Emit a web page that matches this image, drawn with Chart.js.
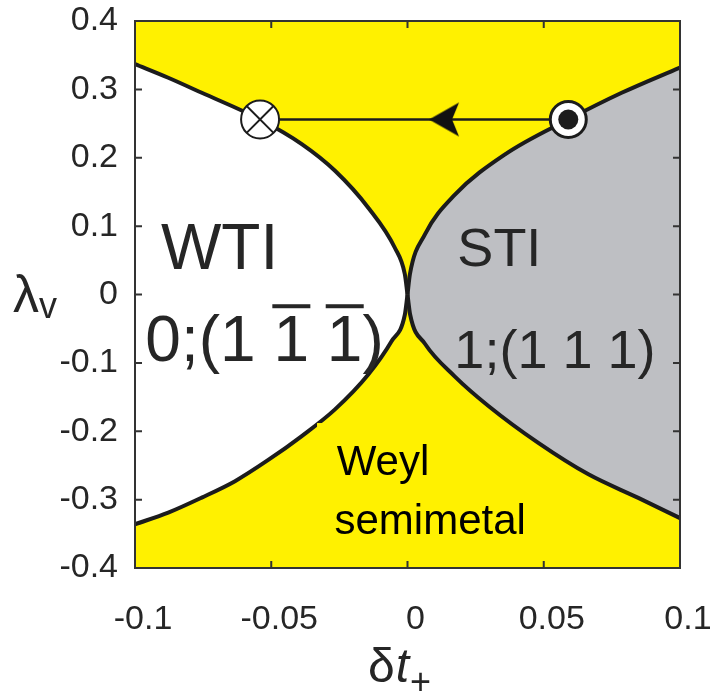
<!DOCTYPE html>
<html><head><meta charset="utf-8">
<script src="https://cdn.jsdelivr.net/npm/chart.js@4.4.1/dist/chart.umd.min.js"></script>
<style>html,body{margin:0;padding:0;background:#fff;}#wrap{width:728px;height:697px;position:relative;}</style>
</head><body><div id="wrap"><canvas id="c" width="728" height="697"></canvas></div>
<script>
// ---- data ----
const wtiUpperDt     = [-0.1, -0.0878, -0.0755, -0.0541, -0.0388, -0.0266, -0.0144, -0.0046, -0.001, 0];
const wtiUpperLambda = [0.337, 0.317, 0.295, 0.256, 0.220, 0.181, 0.127, 0.068, 0.030, 0];
const wtiLowerDt     = [-0.1, -0.0878, -0.0755, -0.0633, -0.0511, -0.0388, -0.0266, -0.0144, -0.0058, -0.001, 0];
const wtiLowerLambda = [-0.336, -0.319, -0.297, -0.273, -0.242, -0.207, -0.168, -0.117, -0.068, -0.030, 0];
const stiUpperDt     = [0, 0.0009, 0.0064, 0.0174, 0.0358, 0.059, 0.0786, 0.1];
const stiUpperLambda = [0, 0.030, 0.088, 0.146, 0.205, 0.256, 0.295, 0.332];
const stiLowerDt     = [0, 0.001, 0.0064, 0.0174, 0.0297, 0.048, 0.0664, 0.0847, 0.1];
const stiLowerLambda = [0, -0.030, -0.072, -0.120, -0.163, -0.217, -0.263, -0.2975, -0.327];
const pathDt     = [-0.0541, 0.059];   // crossed circle (end), dotted circle (start)
const pathLambda = [0.256, 0.256];
const arrowDt     = [0.0134];
const arrowLambda = [0.256];
const xTickValues = [-0.1, -0.05, 0, 0.05, 0.1];
const xTickLabels = ['-0.1', '-0.05', '0', '0.05', '0.1'];
const yTickValues = [-0.4, -0.3, -0.2, -0.1, 0, 0.1, 0.2, 0.3, 0.4];
const yTickLabels = ['-0.4', '-0.3', '-0.2', '-0.1', '0', '0.1', '0.2', '0.3', '0.4'];

// ---- styles ----
const YELLOW = '#FFF100', GRAY = '#BEBFC3', INK = '#1c1c1c', TXT = '#262626';
const FONT = '"Liberation Sans", Arial, Helvetica, sans-serif';

function pts(xs, ys) { return xs.map((x, i) => ({ x: x, y: ys[i] })); }

function makeArrow() {
  const c = document.createElement('canvas'); c.width = 32; c.height = 38;
  const g = c.getContext('2d'); g.fillStyle = '#111';
  g.beginPath(); g.moveTo(1, 19); g.lineTo(31, 2); g.lineTo(24, 19); g.lineTo(31, 36); g.closePath(); g.fill();
  return c;
}

const curveStyle = { showLine: true, borderColor: INK, borderWidth: 4, pointRadius: 0, cubicInterpolationMode: 'monotone', order: 10 };

const bgPlugin = {
  id: 'bg',
  beforeDraw(chart) {
    const { ctx, chartArea: a } = chart;
    ctx.save(); ctx.fillStyle = YELLOW; ctx.fillRect(a.left, a.top, a.right - a.left, a.bottom - a.top); ctx.restore();
  }
};

const overlayPlugin = {
  id: 'overlay',
  afterDatasetsDraw(chart) {
    const { ctx, chartArea: a, scales: { x, y } } = chart;
    const px = v => x.getPixelForValue(v), py = v => y.getPixelForValue(v);
    ctx.save();
    // Weyl label box
    ctx.fillStyle = YELLOW;
    ctx.fillRect(px(-0.0332), py(-0.188), px(0.0083) - px(-0.0332), py(-0.366) - py(-0.188));
    ctx.textAlign = 'left'; ctx.textBaseline = 'alphabetic';
    ctx.fillStyle = TXT;
    ctx.font = '64px ' + FONT;
    ctx.fillText('WTI', px(-0.0905), py(0.0373));
    const s = '0;(1 1 1)';
    const lx = px(-0.0962), ly = py(-0.0976);
    ctx.fillText(s, lx, ly);
    // overbars over 2nd and 3rd "1"
    [s.indexOf('1', 5), s.lastIndexOf('1')].forEach(i => {
      const st = lx + ctx.measureText(s.slice(0, i)).width;
      const cx = st + 0.28 * 64;
      ctx.fillRect(cx - 19, ly - 57, 38, 4);
    });
    ctx.font = '54px ' + FONT;
    ctx.fillText('STI', px(0.0183), py(0.0417));
    ctx.fillText('1;(1 1 1)', px(0.0172), py(-0.107));
    ctx.fillStyle = '#000';
    ctx.font = '42px ' + FONT;
    ctx.fillText('Weyl', px(-0.0260), py(-0.264));
    ctx.fillText('semimetal', px(-0.0268), py(-0.350));
    // frame + inward ticks
    ctx.strokeStyle = '#333'; ctx.lineWidth = 2;
    ctx.strokeRect(a.left, a.top, a.right - a.left, a.bottom - a.top);
    const tl = 7;
    ctx.beginPath();
    xTickValues.forEach(v => { const X = px(v); ctx.moveTo(X, a.bottom); ctx.lineTo(X, a.bottom - tl); ctx.moveTo(X, a.top); ctx.lineTo(X, a.top + tl); });
    yTickValues.forEach(v => { const Y = py(v); ctx.moveTo(a.left, Y); ctx.lineTo(a.left + tl, Y); ctx.moveTo(a.right, Y); ctx.lineTo(a.right - tl, Y); });
    ctx.stroke();
    ctx.restore();
  },
  afterDraw(chart) {
    const { ctx } = chart;
    ctx.save(); ctx.fillStyle = TXT; ctx.textAlign = 'left'; ctx.textBaseline = 'alphabetic';
    // y title: lambda_v
    ctx.font = '52px ' + FONT; ctx.fillText('\u03BB', 13, 312);
    ctx.font = '36px ' + FONT; ctx.fillText('v', 39, 318);
    // x title: delta t_+
    ctx.font = '48px ' + FONT; ctx.fillText('\u03B4', 368, 682);
    const w = ctx.measureText('\u03B4').width;
    ctx.font = 'italic 48px ' + FONT; ctx.fillText('t', 368 + w + 1, 682);
    const w2 = ctx.measureText('t').width;
    ctx.font = '36px ' + FONT; ctx.fillText('+', 368 + w + w2 + 2, 694);
    ctx.restore();
  }
};

new Chart(document.getElementById('c'), {
  type: 'scatter',
  data: {
    datasets: [
      Object.assign({ data: pts(wtiUpperDt, wtiUpperLambda), fill: { target: 1 }, backgroundColor: '#ffffff' }, curveStyle),
      Object.assign({ data: pts(wtiLowerDt, wtiLowerLambda), fill: false }, curveStyle),
      Object.assign({ data: pts(stiUpperDt, stiUpperLambda), fill: { target: 3 }, backgroundColor: GRAY }, curveStyle),
      Object.assign({ data: pts(stiLowerDt, stiLowerLambda), fill: false }, curveStyle),
      { data: pts(pathDt, pathLambda), showLine: true, borderColor: INK, borderWidth: 2.5, pointRadius: 0, fill: false, order: 6 },
      { data: pts(arrowDt, arrowLambda), pointStyle: makeArrow(), pointRadius: 16, order: 5 },
      { data: pts([pathDt[0]], [pathLambda[0]]), pointStyle: 'circle', pointRadius: 19, backgroundColor: '#fff', borderColor: INK, borderWidth: 2, order: 3 },
      { data: pts([pathDt[0]], [pathLambda[0]]), pointStyle: 'crossRot', pointRadius: 19, borderColor: INK, borderWidth: 2, order: 2 },
      { data: pts([pathDt[1]], [pathLambda[1]]), pointStyle: 'circle', pointRadius: 18, backgroundColor: '#fff', borderColor: INK, borderWidth: 3, order: 3 },
      { data: pts([pathDt[1]], [pathLambda[1]]), pointStyle: 'circle', pointRadius: 10, backgroundColor: INK, borderColor: INK, borderWidth: 0, order: 2 }
    ]
  },
  options: {
    responsive: false, animation: false, devicePixelRatio: 1,
    layout: { padding: { left: 0, right: 48, top: 21, bottom: 0 } },
    plugins: { legend: { display: false }, tooltip: { enabled: false }, filler: { drawTime: 'beforeDatasetsDraw' } },
    scales: {
      x: {
        type: 'linear', min: -0.1, max: 0.1,
        afterBuildTicks: s => { s.ticks = xTickValues.map(v => ({ value: v })); },
        afterFit: s => { s.height = 129; s.paddingLeft = 0; s.paddingRight = 0; },
        grid: { display: false, drawTicks: false },
        border: { display: false },
        ticks: { callback: (v, i) => xTickLabels[i], font: { family: FONT, size: 34 }, color: TXT, padding: 31, labelOffset: 8, maxRotation: 0, autoSkip: false }
      },
      y: {
        type: 'linear', min: -0.4, max: 0.4,
        afterBuildTicks: s => { s.ticks = yTickValues.map(v => ({ value: v })); },
        afterFit: s => { s.width = 135; s.paddingTop = 0; s.paddingBottom = 0; },
        grid: { display: false, drawTicks: false },
        border: { display: false },
        ticks: { callback: (v, i) => yTickLabels[i], font: { family: FONT, size: 34 }, color: TXT, padding: 17, autoSkip: false }
      }
    }
  },
  plugins: [bgPlugin, overlayPlugin]
});
</script></body></html>
